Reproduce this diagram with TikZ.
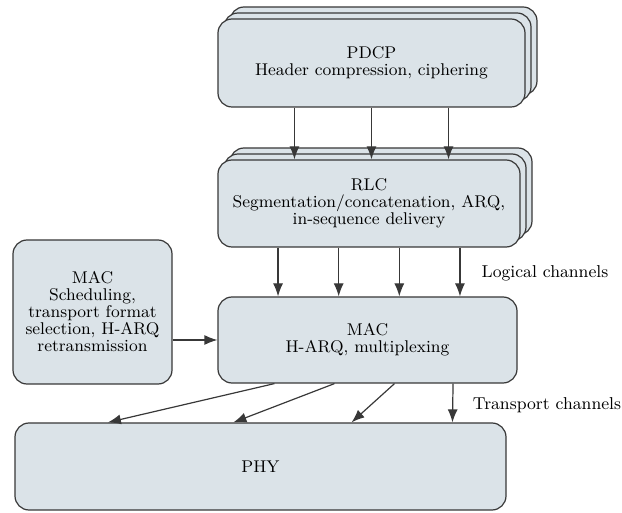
\documentclass[tikz,border=0pt]{standalone}
\usepackage{tikz}
\usetikzlibrary{arrows.meta, calc, backgrounds, positioning}
\definecolor{layerfill}{rgb}{0.86,0.89,0.91}
\definecolor{layerline}{rgb}{0.22,0.22,0.22}

\begin{document}
\begin{tikzpicture}[x=0.5pt,y=-0.5pt,>={Latex[length=6.5pt,width=5pt]},
        layer/.style={draw=layerline, fill=layerfill, line width=0.6pt, rounded corners=7pt,
                align=center, inner sep=0pt, font=\fontsize{8.5}{8.5}\selectfont},
        conn/.style={->, draw=layerline, line width=0.6pt},
        chan/.style={font=\fontsize{8.6}{11}\selectfont}]
        \useasboundingbox (0,0) rectangle (622,513);
        \node[layer, minimum width=153.5pt, minimum height=44pt] (pdcp) at (371.5,63)
                {PDCP\\Header compression, ciphering};
        \node[layer, minimum width=151pt, minimum height=43.5pt] (rlc) at (369,203.5)
                {RLC\\Segmentation/concatenation, ARQ,\\in-sequence delivery};
        \node[layer, minimum width=79.5pt, minimum height=72pt] (sched) at (92.5,312)
                {MAC\\Scheduling,\\transport format\\selection, H-ARQ\\retransmission};
        \node[layer, minimum width=149.5pt, minimum height=43pt] (mac) at (367.5,340)
                {MAC\\H-ARQ, multiplexing};
        \node[layer, minimum width=245.5pt, minimum height=43.5pt] (phy) at (260.5,466.5) {PHY};
        \node[chan] (logical) at (545,273) {Logical channels};
        \node[chan] (transport) at (547,405) {Transport channels};
        % stacked copies behind PDCP and RLC
        \begin{scope}[on background layer]
          \foreach \s in {2,1} {
            \node[layer, minimum width=153.5pt, minimum height=44pt] (pdcpback\s)
                  at ([shift={(6*\s,-6*\s)}]pdcp.center) {};
            \node[layer, minimum width=151pt, minimum height=43.5pt] (rlcback\s)
                  at ([shift={(6*\s,-6*\s)}]rlc.center) {};
          }
        \end{scope}
        \foreach \f in {0.25,0.5,0.75} {
          \path ($(pdcp.south west)!\f!(pdcp.south east)$) coordinate (a);
          \draw[conn] (a) -- (a |- rlc.north);
        }
        \foreach \f in {0.2,0.4,0.6,0.8} {
          \path ($(rlc.south west)!\f!(rlc.south east)$) coordinate (b);
          \draw[conn] (b) -- (b |- mac.north);
        }
        \draw[conn] (sched.east |- mac.west) -- (mac.west);
        \foreach \f/\g in {0.19/0.19, 0.39/0.445, 0.59/0.685, 0.785/0.89}
          \draw[conn] ($(mac.south west)!\f!(mac.south east)$) -- ($(phy.north west)!\g!(phy.north east)$);
\end{tikzpicture}
\end{document}
